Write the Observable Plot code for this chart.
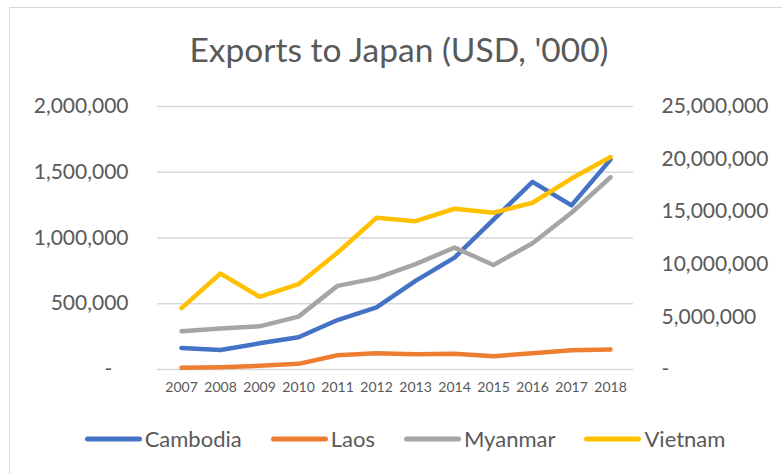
<!DOCTYPE html>
<html>
<head>
<meta charset="utf-8">
<script src="https://cdn.jsdelivr.net/npm/d3@7"></script>
<script src="https://cdn.jsdelivr.net/npm/@observablehq/plot@0.6"></script>
<style>
  html, body { margin: 0; padding: 0; background: #fff; }
  body { width: 782px; height: 474px; position: relative; overflow: hidden; font-family: Lato, "Open Sans", sans-serif; color: #595959; }
  #frame { position: absolute; left: 9px; top: 7px; width: 900px; height: 600px; border-left: 1.5px solid #d9d9d9; border-top: 1.5px solid #d9d9d9; }
  #title { position: absolute; left: 0; top: 29px; width: 798px; text-align: center; font-size: 33.5px; line-height: 40px; }
  #chart { position: absolute; left: 0; top: 80px; }
  #legend { position: absolute; left: 0; top: 426px; width: 810px; display: flex; justify-content: center; font-size: 22px; line-height: 26px; }
  .item { display: flex; align-items: center; margin: 0 14.5px; }
  .item svg { margin-right: 3px; }
</style>
</head>
<body>
<div id="frame"></div>
<div id="title">Exports to Japan (USD, '000)</div>
<div id="chart"></div>
<div id="legend"></div>
<script>
const years = [2007, 2008, 2009, 2010, 2011, 2012, 2013, 2014, 2015, 2016, 2017, 2018];
const cambodia = [164000, 149000, 199000, 245000, 376000, 472000, 674000, 851000, 1140000, 1427000, 1248000, 1596000];
const laos = [13000, 18000, 28000, 43000, 108000, 124000, 116000, 119000, 101000, 124000, 146000, 152000];
const myanmar = [290000, 311000, 328000, 402000, 636000, 695000, 801000, 927000, 795000, 960000, 1192000, 1462000];
const vietnam = [5840000, 9120000, 6910000, 8110000, 11100000, 14420000, 14100000, 15280000, 14900000, 15850000, 18150000, 20200000];
const seriesNames = ["Cambodia", "Laos", "Myanmar", "Vietnam"];
const seriesColors = ["#4472C4", "#ED7D31", "#A5A5A5", "#FFC000"];
const leftTicks = [0, 500000, 1000000, 1500000, 2000000];
const rightTicks = [0, 5000000, 10000000, 15000000, 20000000, 25000000];
const rightMax = 25000000;
const leftMax = 2000000;
const ratio = leftMax / rightMax;

const fmt = d => d === 0 ? "-\u00a0\u00a0\u00a0" : d3.format(",")(d);
const fmtR = d => d === 0 ? "-" : d3.format(",")(Math.round(d / ratio));

const rows = [];
const all = [cambodia, laos, myanmar, vietnam];
all.forEach((arr, si) => {
  arr.forEach((v, i) => rows.push({
    series: seriesNames[si],
    year: years[i],
    plotted: si === 3 ? v * ratio : v
  }));
});

const chart = Plot.plot({
  width: 782,
  height: 330,
  marginTop: 26,
  marginBottom: 41,
  marginLeft: 157,
  marginRight: 149,
  style: { fontFamily: "Lato, 'Open Sans', sans-serif", color: "#595959", background: "transparent" },
  x: { type: "point", domain: years, padding: 0.5 },
  y: { domain: [0, leftMax] },
  marks: [
    Plot.gridY(leftTicks, { stroke: "#d9d9d9", strokeOpacity: 1, strokeWidth: 1.5 }),
    Plot.axisY(leftTicks, { anchor: "left", tickSize: 0, tickPadding: 29, tickFormat: fmt, fontSize: 21, label: null }),
    Plot.axisY(rightTicks.map(t => t * ratio), { anchor: "right", tickSize: 0, tickPadding: 28, tickFormat: fmtR, fontSize: 21, label: null }),
    Plot.axisX({ tickSize: 0, tickPadding: 13, fontSize: 14, label: null, tickFormat: d => String(d) }),
    ...seriesNames.map((name, si) =>
      Plot.line(rows.filter(r => r.series === name), {
        x: "year", y: "plotted", stroke: seriesColors[si], strokeWidth: 4.5,
        strokeLinecap: "round", strokeLinejoin: "round"
      })
    )
  ]
});
document.getElementById("chart").appendChild(chart);

const legend = document.getElementById("legend");
seriesNames.forEach((name, i) => {
  const item = document.createElement("div");
  item.className = "item";
  item.innerHTML = `<svg width="57" height="10"><line x1="2.5" y1="5" x2="54.5" y2="5" stroke="${seriesColors[i]}" stroke-width="5" stroke-linecap="round"/></svg><span>${name}</span>`;
  legend.appendChild(item);
});
</script>
</body>
</html>
